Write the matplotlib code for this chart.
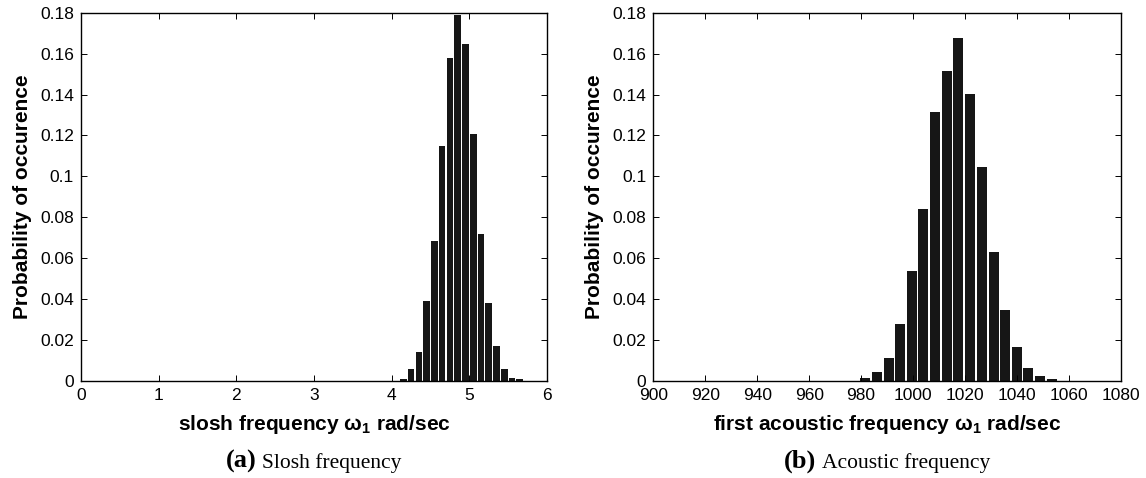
import matplotlib
matplotlib.use("Agg")
import matplotlib.pyplot as plt
from matplotlib.offsetbox import TextArea, HPacker, AnnotationBbox

plt.rcParams['font.family'] = ['Liberation Sans', 'DejaVu Sans']
plt.rcParams['mathtext.fontset'] = 'custom'
plt.rcParams['mathtext.rm'] = 'Liberation Sans'

# data
slosh_centers = [4.15, 4.25, 4.35, 4.45, 4.55, 4.65, 4.75, 4.85,
                 4.95, 5.05, 5.15, 5.25, 5.35, 5.45, 5.55, 5.65]
slosh_prob = [0.0011, 0.0057, 0.0142, 0.0390, 0.0685, 0.1148, 0.1580, 0.1790,
              0.1648, 0.1207, 0.0717, 0.0380, 0.0170, 0.0057, 0.0013, 0.0008]

acoustic_centers = [981.6, 986.1, 990.6, 995.1, 999.6, 1004.0, 1008.5, 1013.0,
                    1017.5, 1022.0, 1026.5, 1031.0, 1035.5, 1040.0, 1044.4,
                    1048.9, 1053.4]
acoustic_prob = [0.0015, 0.0044, 0.0112, 0.0279, 0.0536, 0.0840, 0.1314, 0.1515,
                 0.1676, 0.1402, 0.1045, 0.0629, 0.0346, 0.0165, 0.0062, 0.0023,
                 0.0010]

yticks = [0, 0.02, 0.04, 0.06, 0.08, 0.1, 0.12, 0.14, 0.16, 0.18]
ytick_labels = ['0', '0.02', '0.04', '0.06', '0.08', '0.1', '0.12', '0.14', '0.16', '0.18']
slosh_xticks = [0, 1, 2, 3, 4, 5, 6]
acoustic_xticks = [900, 920, 940, 960, 980, 1000, 1020, 1040, 1060, 1080]

bar_color = '#161616'

fig = plt.figure(figsize=(11.46, 4.78), dpi=100)
ax1 = fig.add_axes([0.0707, 0.2029, 0.4066, 0.7705])
ax2 = fig.add_axes([0.5701, 0.2029, 0.4079, 0.7705])


def style_axis(ax, xticks, xlim, xlabel):
    ax.set_xlim(*xlim)
    ax.set_ylim(0, 0.18)
    ax.set_xticks(xticks)
    ax.set_xticklabels([str(t) for t in xticks])
    ax.set_yticks(yticks)
    ax.set_yticklabels(ytick_labels)
    ax.tick_params(direction='in', top=True, right=True, length=4, width=0.7,
                   labelsize=12.5, pad=5)
    for sp in ax.spines.values():
        sp.set_linewidth(1.0)
    ax.set_ylabel('Probability of occurence', fontsize=15, fontweight='bold',
                  labelpad=6)
    ax.set_xlabel(xlabel, fontsize=15, fontweight='bold', labelpad=7)


ax1.bar(slosh_centers, slosh_prob, width=0.086, color=bar_color, linewidth=0)
style_axis(ax1, slosh_xticks, (0, 6), r'slosh frequency $\mathregular{\omega_1}$ rad/sec')

ax2.bar(acoustic_centers, acoustic_prob, width=3.85, color=bar_color, linewidth=0)
style_axis(ax2, acoustic_xticks, (900, 1080),
           r'first acoustic frequency $\mathregular{\omega_1}$ rad/sec')


def caption(ax, letter, text):
    parts = HPacker(children=[
        TextArea(letter, textprops=dict(family='Liberation Serif', fontweight='bold',
                                        fontsize=19)),
        TextArea(text, textprops=dict(family='Liberation Serif', fontsize=15.5)),
    ], align='baseline', pad=0, sep=4)
    ab = AnnotationBbox(parts, (0.5, 0.035), xycoords=(ax.transAxes, fig.transFigure),
                        frameon=False, box_alignment=(0.5, 0.5))
    fig.add_artist(ab)


caption(ax1, '(a)', 'Slosh frequency')
caption(ax2, '(b)', 'Acoustic frequency')

fig.savefig('out.png', dpi=100)
